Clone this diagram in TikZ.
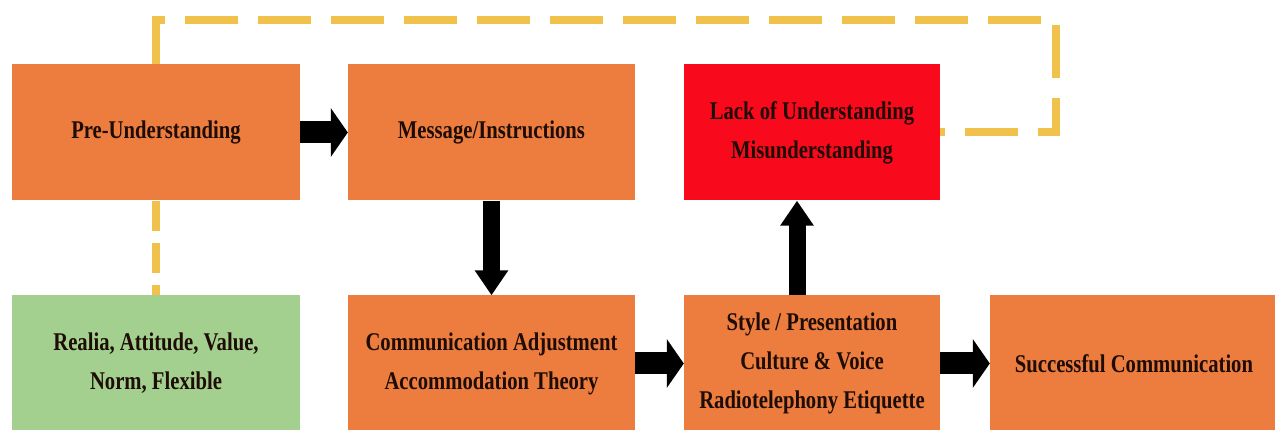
\documentclass[tikz,border=0pt]{standalone}
\usepackage{fontspec}
\newfontfamily\boxfont{Liberation Serif}[FakeStretch=0.81]
\usetikzlibrary{arrows.meta,positioning}
\definecolor{boxorange}{HTML}{ED7D3F}
\definecolor{boxred}{HTML}{F80A1C}
\definecolor{boxgreen}{HTML}{A3D08E}
\definecolor{linkyellow}{HTML}{F0C24C}
\definecolor{textdark}{HTML}{1E0C06}

\begin{document}
\begin{tikzpicture}[x=1pt,y=1pt,
    box/.style={fill=boxorange, minimum width=288pt, minimum height=136pt,
        inner sep=0pt, align=center, text=textdark,
        font=\boxfont\bfseries\fontsize{25.5}{39}\selectfont,
        execute at begin node={\vspace*{6pt}}},
    hflow/.style={line width=22pt, -{Triangle[length=17pt,width=48pt]}},
    vflow/.style={line width=17pt, -{Triangle[length=25pt,width=32pt]}},
    link/.style={draw=linkyellow, line width=8pt, dash pattern=on 53pt off 20pt}]
            \useasboundingbox (0,0) rectangle (1275,430);
            % top row
            \node[box] (pre) at (156,297.5) {Pre-Understanding};
            \node[box, minimum width=287pt] (msg) at (491.5,297.5) {Message/Instructions};
            \node[box, fill=boxred, minimum width=256pt] (lack) at (812,297.5)
                {Lack of Understanding\\Misunderstanding};
            % bottom row
            \node[box, fill=boxgreen] (realia) at (156,66.5)
                {Realia, Attitude, Value,\\Norm, Flexible};
            \node[box, minimum width=287pt] (comm) at (491.5,66.5)
                {Communication Adjustment\\Accommodation Theory};
            \node[box, minimum width=256pt] (style) at (812,66.5)
                {Style / Presentation\\Culture \& Voice\\Radiotelephony Etiquette};
            \node[box] (succ) at (1134,66.5) {Successful Communication};
            % feedback loop
            \coordinate (corner) at (1056,410);
            \draw[link] (pre.north) |- (corner) |- (lack.east);
            \draw[link, dash pattern=on 30pt off 12pt] (pre.south) -- (realia.north);
            % flow
            \draw[hflow] (pre.east) -- (msg.west);
            \draw[vflow] (msg.south) -- (comm.north);
            \draw[hflow] (comm.east) -- (style.west);
            \draw[vflow] ([xshift=-15pt]style.north) -- ([xshift=-15pt]lack.south);
            \draw[hflow] (style.east) -- (succ.west);
            \end{tikzpicture}
\end{document}
